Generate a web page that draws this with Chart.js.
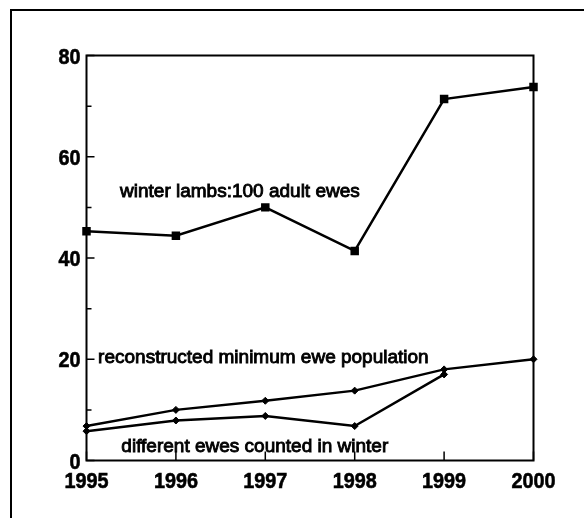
<!DOCTYPE html>
<html><head><meta charset="utf-8">
<script src="https://cdn.jsdelivr.net/npm/chart.js@4/dist/chart.umd.min.js"></script>
<style>html,body{margin:0;padding:0;background:#fff;}#wrap{width:584px;height:518px;position:relative;background:#fff}</style>
</head><body><div id="wrap"><canvas id="c" width="584" height="518"></canvas></div>
<script>
// ---- data ----
const years = [1995, 1996, 1997, 1998, 1999, 2000];
const lambsPer100Ewes = [45.3, 44.4, 50.0, 41.4, 71.4, 73.8];
const reconstructedMinEwes = [6.8, 10.0, 11.8, 13.8, 18.0, 20.0];
const differentEwesCounted = [5.8, 7.9, 8.8, 6.8, 17.0, null];
const yTickLabels = [0, 20, 40, 60, 80];
const yMinorTicks = [10, 30, 50, 70];
const xTickLabels = ['1995', '1996', '1997', '1998', '1999', '2000'];
const seriesNames = ['winter lambs:100 adult ewes', 'reconstructed minimum ewe population', 'different ewes counted in winter'];

const pts = arr => years.map((y, i) => ({x: y, y: arr[i]}));

const FONT = '"Liberation Sans", Arial, sans-serif';

function condensedText(ctx, text, x, y, sx) {
  ctx.save();
  ctx.translate(x, y);
  ctx.scale(sx, 1);
  ctx.fillText(text, 0, 0);
  ctx.strokeText(text, 0, 0);
  ctx.restore();
}

const framePlugin = {
  id: 'frame',
  beforeDatasetsDraw(chart) {
    const ctx = chart.ctx, a = chart.chartArea;
    const xs = chart.scales.x, ys = chart.scales.y;
    ctx.save();
    ctx.strokeStyle = '#000';
    ctx.lineWidth = 2;
    ctx.beginPath();
    ctx.moveTo(11, 518); ctx.lineTo(11, 10); ctx.lineTo(584, 10);
    ctx.stroke();
    ctx.lineWidth = 2;
    ctx.strokeRect(a.left, a.top, a.right - a.left, a.bottom - a.top);
    ctx.lineWidth = 1.5;
    ctx.beginPath();
    yTickLabels.forEach(v => { const y = ys.getPixelForValue(v); ctx.moveTo(a.left, y); ctx.lineTo(a.left + 8, y); });
    yMinorTicks.forEach(v => { const y = ys.getPixelForValue(v); ctx.moveTo(a.left, y); ctx.lineTo(a.left + 5, y); });
    years.forEach(v => { const x = xs.getPixelForValue(v); ctx.moveTo(x, a.bottom); ctx.lineTo(x, a.bottom - 9); });
    ctx.stroke();
    ctx.fillStyle = '#000';
    ctx.lineWidth = 0.6;
    ctx.font = 'bold 22px ' + FONT;
    ctx.textBaseline = 'middle';
    ctx.textAlign = 'right';
    yTickLabels.forEach(v => { condensedText(ctx, String(v), a.left - 6, ys.getPixelForValue(v) + 2, 0.9); });
    ctx.textAlign = 'center';
    years.forEach((v, i) => { condensedText(ctx, xTickLabels[i], xs.getPixelForValue(v), a.bottom + 21, 0.9); });
    ctx.restore();
  },
  afterDatasetsDraw(chart, args, opts) {
    const ctx = chart.ctx;
    const xs = chart.scales.x, ys = chart.scales.y;
    ctx.save();
    ctx.fillStyle = '#000'; ctx.strokeStyle = '#000'; ctx.lineWidth = 0.9;
    ctx.font = '19px ' + FONT;
    ctx.textAlign = 'left'; ctx.textBaseline = 'alphabetic';
    opts.labels.forEach(l => {
      const x = xs.getPixelForValue(l.x), y = ys.getPixelForValue(l.y);
      ctx.fillText(l.text, x, y);
      ctx.strokeText(l.text, x, y);
    });
    ctx.restore();
  }
};

new Chart(document.getElementById('c'), {
  type: 'line',
  data: {
    datasets: [
      { label: seriesNames[0], data: pts(lambsPer100Ewes), borderColor: '#000', backgroundColor: '#000', borderWidth: 2.5,
        pointStyle: 'rect', pointRadius: 6, pointBorderWidth: 0, clip: 12 },
      { label: seriesNames[1], data: pts(reconstructedMinEwes), borderColor: '#000', backgroundColor: '#000', borderWidth: 2.5,
        pointStyle: 'rectRot', pointRadius: 3.5, pointBorderWidth: 1, clip: 12 },
      { label: seriesNames[2], data: pts(differentEwesCounted), borderColor: '#000', backgroundColor: '#000', borderWidth: 2.5,
        pointStyle: 'rectRot', pointRadius: 3.5, pointBorderWidth: 1, clip: 12, spanGaps: false }
    ]
  },
  options: {
    responsive: false, animation: false, devicePixelRatio: 1,
    layout: { padding: { left: 86.5, top: 55.5, right: 50.5, bottom: 57.5 } },
    scales: {
      x: { type: 'linear', min: 1995, max: 2000, display: false },
      y: { type: 'linear', min: 0, max: 80, display: false }
    },
    plugins: {
      legend: { display: false }, tooltip: { enabled: false },
      frame: { labels: [
        { text: seriesNames[0], x: 1995.375, y: 52.1 },
        { text: seriesNames[1], x: 1995.13, y: 19.3 },
        { text: seriesNames[2], x: 1995.39, y: 1.75 }
      ] }
    }
  },
  plugins: [framePlugin]
});
</script></body></html>
